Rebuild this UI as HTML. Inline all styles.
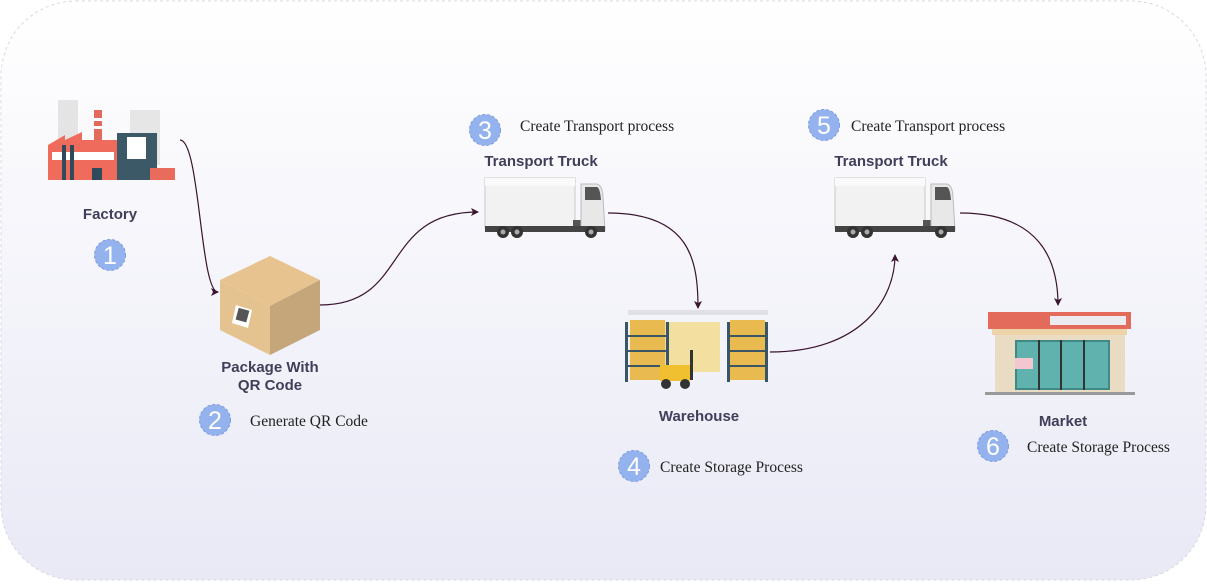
<!DOCTYPE html>
<html><head><meta charset="utf-8"><style>
body{margin:0;width:1207px;height:582px;background:#fff;overflow:hidden;font-family:"Liberation Sans",sans-serif}
</style></head><body>
<svg width="1207" height="582" xmlns="http://www.w3.org/2000/svg">
<defs>
<linearGradient id="bg" x1="0" y1="0" x2="0" y2="1"><stop offset="0" stop-color="#ffffff"/><stop offset="1" stop-color="#e9e9f6"/></linearGradient>
<marker id="ar" markerWidth="8" markerHeight="8" refX="7" refY="4" orient="auto" markerUnits="userSpaceOnUse"><path d="M0,0 L8,4 L0,8 L2,4 z" fill="#3a1530"/></marker>
<g id="truck">
<rect x="0" y="0" width="90" height="50" fill="#f2f2f2" stroke="#c8c8c8"/>
<rect x="0" y="0" width="90" height="8" fill="#fafafa"/>
<rect x="88" y="42" width="10" height="8" fill="#555"/>
<path d="M96,6 L112,6 Q118,8 118,20 L120,52 L96,52 z" fill="#e8e8e8" stroke="#bbb"/>
<path d="M100,9 L112,9 Q115,10 116,22 L100,22 z" fill="#555"/>
<rect x="0" y="48" width="120" height="6" fill="#444"/>
<circle cx="18" cy="54" r="6" fill="#333"/><circle cx="32" cy="54" r="6" fill="#333"/><circle cx="106" cy="54" r="6" fill="#333"/>
<circle cx="18" cy="54" r="2.5" fill="#aaa"/><circle cx="32" cy="54" r="2.5" fill="#aaa"/><circle cx="106" cy="54" r="2.5" fill="#aaa"/>
</g>
<g id="num"><circle r="15.5" fill="#94b2ee" stroke="#7d9ce0" stroke-dasharray="3 2"/></g>
</defs>
<rect x="1" y="1" width="1205" height="579" rx="75" fill="url(#bg)" stroke="#d8d8e0" stroke-dasharray="3 3"/>

<g>
<rect x="58" y="100" width="20" height="60" fill="#e4e4e4"/><rect x="130" y="110" width="30" height="55" fill="#e6e6e6"/>
<rect x="94" y="110" width="8" height="40" fill="#e36b5c"/>
<rect x="94" y="118" width="8" height="3" fill="#fff"/><rect x="94" y="126" width="8" height="3" fill="#fff"/>
<path d="M48,145 L65,135 L65,140 L82,132 L82,140 L117,140 L117,180 L48,180 z" fill="#ef6b5c"/>
<rect x="52" y="152" width="62" height="8" fill="#fff"/>
<rect x="62" y="145" width="4" height="35" fill="#2f4a5a"/><rect x="70" y="145" width="4" height="35" fill="#2f4a5a"/>
<rect x="92" y="168" width="10" height="12" fill="#2f4a5a"/>
<rect x="117" y="133" width="40" height="47" fill="#3c5968"/>
<rect x="127" y="137" width="19" height="22" fill="#fff"/>
<rect x="150" y="168" width="25" height="12" fill="#e86b5c"/>
</g>
<text x="110" y="219" text-anchor="middle" font-weight="bold" font-size="15" fill="#3f3f5a">Factory</text>
<use href="#num" x="110" y="255"/><text x="110" y="264" text-anchor="middle" font-size="25" fill="#fff">1</text>

<path d="M220,280 L270,256 L320,280 L270,306 z" fill="#e7c48f"/>
<path d="M220,280 L270,306 L270,355 L220,330 z" fill="#e4c390"/>
<path d="M270,306 L320,280 L320,330 L270,355 z" fill="#c5a57a"/>
<path d="M236,305 L252,310 L248,328 L232,323 z" fill="#fff"/>
<rect x="237" y="309" width="11" height="12" fill="#555" transform="rotate(15 242 315)"/>
<text x="270" y="372" text-anchor="middle" font-weight="bold" font-size="15" fill="#3f3f5a">Package With</text>
<text x="270" y="390" text-anchor="middle" font-weight="bold" font-size="15" fill="#3f3f5a">QR Code</text>
<use href="#num" x="215" y="420"/><text x="215" y="429" text-anchor="middle" font-size="25" fill="#fff">2</text>
<text x="250" y="426" font-family="Liberation Serif" font-size="15.5" fill="#222">Generate QR Code</text>

<use href="#num" x="485" y="130"/><text x="485" y="139" text-anchor="middle" font-size="25" fill="#fff">3</text>
<text x="520" y="131" font-family="Liberation Serif" font-size="15.5" fill="#222">Create Transport process</text>
<text x="541" y="166" text-anchor="middle" font-weight="bold" font-size="15" fill="#3f3f5a">Transport Truck</text>
<use href="#truck" x="485" y="178"/>

<g>
<rect x="628" y="310" width="140" height="5" fill="#e0e0e6"/>
<rect x="665" y="322" width="55" height="50" fill="#f3dfa0"/>
<rect x="625" y="322" width="3" height="60" fill="#3a5566"/><rect x="666" y="322" width="3" height="60" fill="#3a5566"/>
<rect x="727" y="322" width="3" height="60" fill="#3a5566"/><rect x="765" y="322" width="3" height="60" fill="#3a5566"/>
<rect x="630" y="320" width="35" height="60" fill="#e8b43c" opacity=".9"/>
<rect x="730" y="320" width="35" height="60" fill="#e8b43c" opacity=".9"/>
<rect x="628" y="335" width="40" height="2" fill="#3a5566"/><rect x="628" y="350" width="40" height="2" fill="#3a5566"/><rect x="628" y="365" width="40" height="2" fill="#3a5566"/>
<rect x="728" y="335" width="40" height="2" fill="#3a5566"/><rect x="728" y="350" width="40" height="2" fill="#3a5566"/><rect x="728" y="365" width="40" height="2" fill="#3a5566"/>
<rect x="660" y="365" width="30" height="16" fill="#f0c030"/>
<circle cx="666" cy="384" r="5" fill="#333"/><circle cx="685" cy="384" r="5" fill="#333"/>
<rect x="690" y="350" width="3" height="30" fill="#333"/>
</g>
<text x="699" y="421" text-anchor="middle" font-weight="bold" font-size="15" fill="#3f3f5a">Warehouse</text>
<use href="#num" x="634" y="466"/><text x="634" y="475" text-anchor="middle" font-size="25" fill="#fff">4</text>
<text x="660" y="472" font-family="Liberation Serif" font-size="15.5" fill="#222">Create Storage Process</text>

<use href="#num" x="824" y="125"/><text x="824" y="134" text-anchor="middle" font-size="25" fill="#fff">5</text>
<text x="851" y="131" font-family="Liberation Serif" font-size="15.5" fill="#222">Create Transport process</text>
<text x="891" y="166" text-anchor="middle" font-weight="bold" font-size="15" fill="#3f3f5a">Transport Truck</text>
<use href="#truck" x="835" y="178"/>

<g>
<rect x="988" y="312" width="143" height="17" fill="#e36b5c"/>
<rect x="1050" y="316" width="76" height="9" fill="#ececf0"/>
<rect x="992" y="329" width="135" height="6" fill="#ecd3a8"/>
<rect x="995" y="335" width="130" height="57" fill="#e9dcc3"/>
<rect x="1015" y="340" width="95" height="50" fill="#3f8a87"/>
<rect x="1017" y="342" width="91" height="46" fill="#5fb2ae"/>
<rect x="1038" y="340" width="2" height="50" fill="#333"/><rect x="1060" y="340" width="2" height="50" fill="#333"/><rect x="1083" y="340" width="2" height="50" fill="#333"/>
<rect x="1015" y="358" width="18" height="11" fill="#f3c6d0"/>
<rect x="985" y="392" width="150" height="3" fill="#999"/>
</g>
<text x="1063" y="426" text-anchor="middle" font-weight="bold" font-size="15" fill="#3f3f5a">Market</text>
<use href="#num" x="993" y="446"/><text x="993" y="455" text-anchor="middle" font-size="25" fill="#fff">6</text>
<text x="1027" y="452" font-family="Liberation Serif" font-size="15.5" fill="#222">Create Storage Process</text>

<g fill="none" stroke="#3a1530" stroke-width="1.2" marker-end="url(#ar)">
<path d="M180,140 C200,140 200,292 218,292"/>
<path d="M320,305 C410,305 380,212 478,212"/>
<path d="M608,213 C690,213 698,260 698,308"/>
<path d="M770,352 C860,352 895,300 895,255"/>
<path d="M960,213 C1040,213 1058,260 1058,305"/>
</g>
</svg>
</body></html>
